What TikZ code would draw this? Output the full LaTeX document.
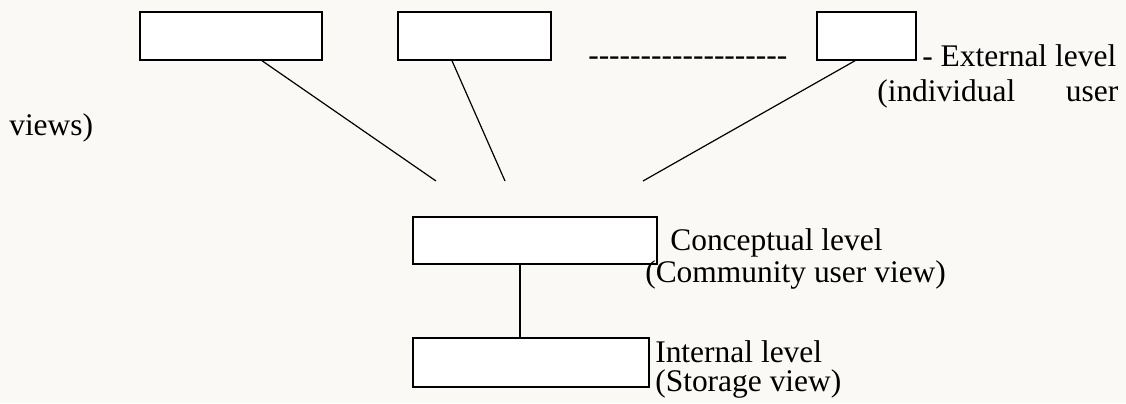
\documentclass[tikz,border=0pt]{standalone}
\usepackage{fontspec}
\setmainfont{Liberation Serif}[Ligatures=TeXOff]
\begin{document}
\begin{tikzpicture}[x=0.75pt,y=-0.75pt,
  levelbox/.style={draw=black,line width=1.1pt,fill=white,inner sep=0pt},
  link/.style={draw=black,line width=0.9pt},
  label/.style={inner sep=0pt,font=\fontsize{23.6}{31}\selectfont}]
  % page and background
  \fill[fill={rgb,255:red,251;green,249;blue,245}] (0,0) rectangle (1126,403);
  \useasboundingbox (0,0) rectangle (1126,403);

  % external level: user views
  \node[levelbox,minimum width=136.5pt,minimum height=36pt] (v1) at (231,36) {};
  \node[levelbox,minimum width=114.75pt,minimum height=36pt] (v2) at (474.5,36) {};
  \node[levelbox,minimum width=74.25pt,minimum height=36pt] (v3) at (866.5,36) {};
  \node[label,anchor=base west] (dots) at (588,65) {-------------------};
  \node[label,anchor=base west] (ext1) at (922,66) {- External level};
  \node[label,anchor=base west,text width=180.75pt] (ext2) at (877,101) {(individual\hfill user};
  \node[label,anchor=base west] (ext3) at (9,135) {views)};

  % conceptual level
  \node[levelbox,minimum width=183pt,minimum height=35.25pt] (con) at (535,240.5) {};
  \node[label,anchor=base west] (con1) at (670,250) {Conceptual level};
  \node[label,anchor=base west] (con2) at (645,282) {(Community user view)};

  % internal level
  \node[levelbox,minimum width=177pt,minimum height=36.75pt] (int) at (531,362.5) {};
  \node[label,anchor=base west] (int1) at (655,362) {Internal level};
  \node[label,anchor=base west] (int2) at (655,391) {(Storage view)};

  % links from the user views towards the conceptual level
  \coordinate (e1) at (436,181);
  \coordinate (e2) at (505,181);
  \coordinate (e3) at (643,181);
  \draw[link] ([xshift=23.25pt]v1.south) -- (e1);
  \draw[link] ([xshift=-16.875pt]v2.south) -- (e2);
  \draw[link] ([xshift=-8.625pt]v3.south) -- (e3);

  % conceptual to internal
  \draw[link] ([xshift=-11.25pt]con.south) -- ([xshift=-11.25pt]con.south |- int.north);
\end{tikzpicture}
\end{document}
